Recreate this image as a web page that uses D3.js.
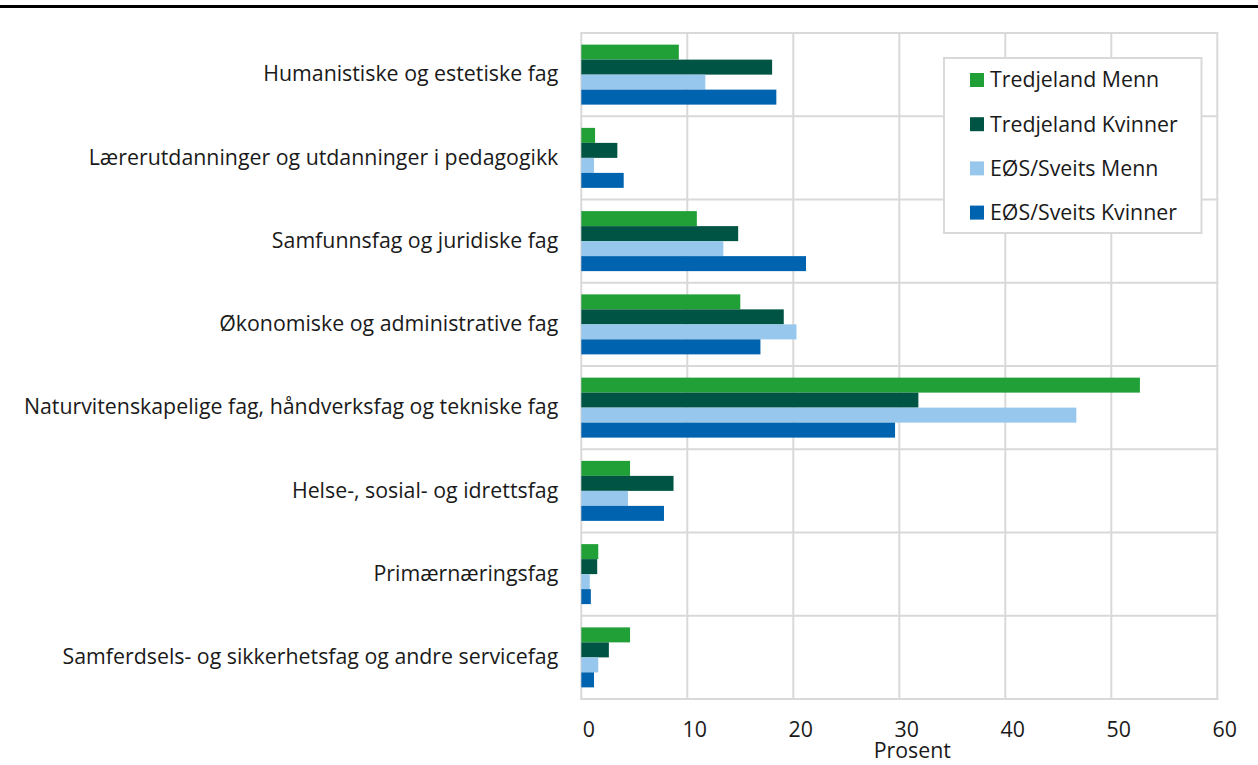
<!DOCTYPE html>
<html>
<head>
<meta charset="utf-8">
<script src="https://cdn.jsdelivr.net/npm/d3@7"></script>
<style>
  body { margin: 0; background: #fff; }
  svg { display: block; font-family: 'Open Sans', sans-serif; }
  .label { font-size: 21.33px; fill: #1a1a1a; }
</style>
</head>
<body>
<div id="chart"></div>
<script>
// categories, top to bottom
const categories = [
  'Humanistiske og estetiske fag',
  'Lærerutdanninger og utdanninger i pedagogikk',
  'Samfunnsfag og juridiske fag',
  'Økonomiske og administrative fag',
  'Naturvitenskapelige fag, håndverksfag og tekniske fag',
  'Helse-, sosial- og idrettsfag',
  'Primærnæringsfag',
  'Samferdsels- og sikkerhetsfag og andre servicefag'
];

const seriesNames = ['Tredjeland Menn', 'Tredjeland Kvinner', 'EØS/Sveits Menn', 'EØS/Sveits Kvinner'];
const seriesColors = ['#21a038', '#005443', '#97c7ec', '#0063af'];

// percent values per series
const tredjelandMenn    = [9.2, 1.3, 10.9, 15.0, 52.7, 4.6, 1.6, 4.6];
const tredjelandKvinner = [18.0, 3.4, 14.8, 19.1, 31.8, 8.7, 1.5, 2.6];
const eosMenn           = [11.7, 1.2, 13.4, 20.3, 46.7, 4.4, 0.8, 1.6];
const eosKvinner        = [18.4, 4.0, 21.2, 16.9, 29.6, 7.8, 0.9, 1.2];

const xTicks = [0, 10, 20, 30, 40, 50, 60];

const seriesValues = [tredjelandMenn, tredjelandKvinner, eosMenn, eosKvinner];

var W = 1258, H = 765;
var margin = { left: 581.3, top: 33, right: 40.7, bottom: 66 };
var width = W - margin.left - margin.right,
    height = H - margin.top - margin.bottom;

var svg = d3.select('#chart')
  .append('svg')
  .attr('width', W)
  .attr('height', H);

// thick rule along the top
svg.append('line')
  .attr('x1', 0).attr('x2', W)
  .attr('y1', 6.5).attr('y2', 6.5)
  .attr('stroke', '#000')
  .attr('stroke-width', 3);

var g = svg.append('g')
  .attr('transform', 'translate(' + margin.left + ',' + margin.top + ')');

var x = d3.scaleLinear().domain([0, 60]).range([0, width]);

var y = d3.scaleBand()
  .domain(categories)
  .range([0, height])
  .padding(0);

var ySub = d3.scaleBand()
  .domain(seriesNames)
  .range([0, y.step()])
  .paddingInner(0)
  .paddingOuter(0.775);

// gridlines
g.selectAll('.vgrid')
  .data(xTicks)
  .enter()
  .append('line')
  .attr('x1', d => x(d)).attr('x2', d => x(d))
  .attr('y1', 0).attr('y2', height)
  .attr('stroke', '#d9d9d9')
  .attr('stroke-width', 2);

var bounds = categories.map(c => y(c)).concat([height]);
g.selectAll('.hgrid')
  .data(bounds)
  .enter()
  .append('line')
  .attr('x1', -1).attr('x2', width + 1)
  .attr('y1', d => d).attr('y2', d => d)
  .attr('stroke', '#d9d9d9')
  .attr('stroke-width', 2);

// bars
categories.forEach(function (cat, ci) {
  g.selectAll('.bar-' + ci)
    .data(seriesNames)
    .enter()
    .append('rect')
    .attr('x', x(0))
    .attr('y', s => y(cat) + ySub(s))
    .attr('width', (s, si) => x(seriesValues[si][ci]) - x(0))
    .attr('height', ySub.bandwidth())
    .attr('fill', (s, si) => seriesColors[si]);
});

// strip d3's default axis font so the css applies
function plainText(a) {
  a.attr('font-family', null).attr('font-size', null);
  a.select('.domain').remove();
  a.selectAll('text').attr('class', 'label').attr('fill', null);
}

// category labels
var yAxis = d3.axisLeft(y).tickSize(0).tickPadding(23);
g.append('g')
  .call(yAxis)
  .call(plainText);

// x axis labels (sit a little right of the gridline, like the original)
var xAxis = d3.axisBottom(x).tickValues(xTicks).tickSize(0).tickPadding(23);
g.append('g')
  .attr('transform', 'translate(0,' + height + ')')
  .call(xAxis)
  .call(plainText)
  .selectAll('text')
  .attr('dx', 7);

g.append('text')
  .attr('class', 'label')
  .attr('x', x(30) + 13)
  .attr('y', height + 59)
  .attr('text-anchor', 'middle')
  .text('Prosent');

// legend
var legend = svg.append('g').attr('transform', 'translate(944,58)');
legend.append('rect')
  .attr('width', 257.5).attr('height', 175)
  .attr('fill', '#fff')
  .attr('stroke', '#d9d9d9')
  .attr('stroke-width', 2);

var items = legend.selectAll('.item')
  .data(seriesNames)
  .enter()
  .append('g')
  .attr('transform', (d, i) => 'translate(26,' + (22 + i * 44.2) + ')');

items.append('rect')
  .attr('x', 0).attr('y', -7)
  .attr('width', 14).attr('height', 14)
  .attr('fill', (d, i) => seriesColors[i]);

items.append('text')
  .attr('class', 'label')
  .attr('x', 20)
  .attr('dy', '0.35em')
  .text(d => d);
</script>
</body>
</html>
